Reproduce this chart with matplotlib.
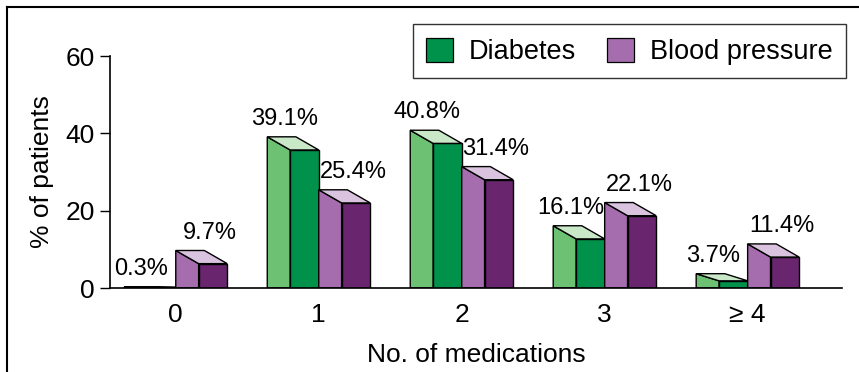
import matplotlib
matplotlib.use("Agg")
import matplotlib.pyplot as plt
from matplotlib.patches import Patch
from matplotlib.lines import Line2D

plt.rcParams['font.family'] = ['Liberation Sans', 'DejaVu Sans']

# Share of patients by number of medications
categories = ['0', '1', '2', '3', '\u2265 4']
diabetes = [0.3, 39.1, 40.8, 16.1, 3.7]
blood_pressure = [9.7, 25.4, 31.4, 22.1, 11.4]
series_names = ['Diabetes', 'Blood pressure']

# (side face, front face, top face) shades for each series
green = ('#6cc173', '#00914a', '#c9e8c8')
purple = ('#a56dad', '#69266f', '#d9c3de')

fig = plt.figure(figsize=(8.59, 3.72), dpi=100)
ax = fig.add_axes([110 / 859, 1 - 288 / 372, (842 - 110) / 859, (288 - 56) / 372])

side_w = 0.16    # width of the receding side face
front_w = 0.20   # width of the front face
max_drop = 3.4   # vertical depth of the 3-D effect, in data units


def bar3d(ax, x_left, value, shades, label_x):
    """Draw a pseudo 3-D bar whose back top edge sits at `value`."""
    drop = min(max_drop, value / 2.0)
    front_top = value - drop
    x_mid = x_left + side_w
    x_right = x_mid + front_w
    kw = dict(edgecolor='black', linewidth=1.0, joinstyle='miter')
    # side face
    ax.fill([x_left, x_left, x_mid, x_mid], [0, value, front_top, 0],
            facecolor=shades[0], **kw)
    # front face
    ax.fill([x_mid, x_mid, x_right, x_right], [0, front_top, front_top, 0],
            facecolor=shades[1], **kw)
    # top face
    ax.fill([x_left, x_left + front_w, x_right, x_mid],
            [value, value, front_top, front_top],
            facecolor=shades[2], **kw)
    ax.annotate(f'{value}%', xy=(label_x, value),
                xytext=(0, 5), textcoords='offset points',
                ha='center', va='bottom', fontsize=17)


for i, (d, b) in enumerate(zip(diabetes, blood_pressure)):
    bar3d(ax, i - side_w - front_w, d, green, i - 0.24)
    bar3d(ax, i, b, purple, i + 0.24)

ax.set_xlim(-0.46, 4.66)
ax.set_ylim(0, 60)
ax.set_yticks([0, 20, 40, 60])
ax.set_xticks(range(len(categories)))
ax.set_xticklabels(categories)
ax.tick_params(axis='y', length=7, width=1, pad=4, labelsize=19)
ax.tick_params(axis='x', length=0, pad=11, labelsize=19)
for side in ('top', 'right'):
    ax.spines[side].set_visible(False)
ax.spines['left'].set_linewidth(1.2)
ax.spines['bottom'].set_linewidth(1.2)
ax.set_ylabel('% of patients', fontsize=19, labelpad=8)
ax.set_xlabel('No. of medications', fontsize=19, labelpad=11)

handles = [Patch(facecolor=green[1], edgecolor='black', linewidth=0.9),
           Patch(facecolor=purple[0], edgecolor='black', linewidth=0.9)]
leg = fig.legend(handles, series_names, loc='upper right',
                 bbox_to_anchor=(846 / 859, 1 - 24 / 372), ncol=2,
                 fontsize=19.5, frameon=True, fancybox=False,
                 handlelength=1.0, handleheight=1.0, handletextpad=0.57,
                 columnspacing=1.15, borderpad=0.5, borderaxespad=0)
leg.get_frame().set_edgecolor('black')
leg.get_frame().set_linewidth(1.0)

# outer frame lines along the top and left edges
fig.add_artist(Line2D([7 / 859, 1], [1 - 7 / 372, 1 - 7 / 372],
                      transform=fig.transFigure, color='black', linewidth=1.5))
fig.add_artist(Line2D([7 / 859, 7 / 859], [0, 1 - 7 / 372],
                      transform=fig.transFigure, color='black', linewidth=1.5))

fig.savefig('out.png', dpi=100)
